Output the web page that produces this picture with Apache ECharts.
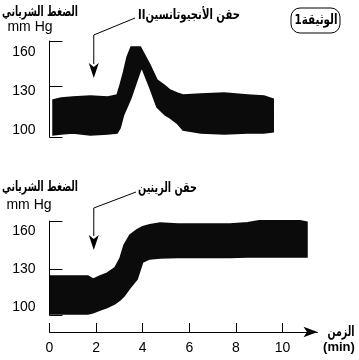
<!DOCTYPE html>
<html><head><meta charset="utf-8">
<script src="https://cdn.jsdelivr.net/npm/echarts@6/dist/echarts.min.js"></script>
<style>html,body{margin:0;padding:0;background:#fff}#c{width:359px;height:360px}</style>
</head><body><div id="c"></div>
<script>
// Panel 1: angiotensin II injection (time in min, pressure envelope in mm Hg)
const timeA  = [0.15, 0.5, 1.0, 1.75, 2.5, 2.9, 3.03, 3.18, 3.33, 3.5, 3.9, 3.97, 4.31, 4.61, 4.96, 5.17, 5.47, 5.73, 6.5, 7.5, 8.5, 9.2, 9.6];
const upperA = [123.4, 124.9, 125.6, 126.4, 125.6, 127.2, 134.8, 144.8, 156.3, 163.9, 163.9, 161.6, 150.2, 138.7, 134.1, 131, 128.7, 127.2, 128, 128.7, 127.2, 126.4, 124];
const lowerA = [96.6, 97.3, 98.1, 96.6, 97.3, 98.1, 102, 111.9, 118, 125, 146, 147.9, 132.5, 118, 111.9, 109.6, 105.7, 100.4, 98.1, 97.3, 98.1, 98.1, 98.9];
// Panel 2: renin injection
const timeR  = [0.05, 0.8, 1.65, 1.87, 2.17, 2.47, 2.8, 3.03, 3.2, 3.45, 3.76, 4.0, 4.3, 4.75, 5.5, 6.45, 7.75, 8.5, 9.0, 10.0, 10.75, 11.05];
const upperR = [124.5, 124.5, 124.5, 122, 124.5, 126.8, 130.8, 138.7, 149, 156.8, 161, 163.5, 165, 166.3, 165.5, 165.5, 165.5, 166.5, 168, 168, 168, 167];
const lowerR = [94.5, 94.5, 94.5, 95.5, 97.6, 99.5, 102.5, 105.5, 108.7, 115, 122, 135.5, 138, 138.7, 139, 139, 139, 139.5, 139.5, 139.5, 139.5, 139.5];
// Axis labels / ticks
const yLabels = [100, 130, 160];
const yTicksA = [95, 134, 168.5];
const yTicksR = [93.7, 130, 167.9];
const xLabels = [0, 2, 4, 6, 8, 10];
const injectTime = [1.9, 1.9];

const INK = '#0b0b0b';
const numFont = 'Liberation Sans, Arial, sans-serif';
const arFont = 'DejaVu Sans, sans-serif';

function yAxis(grid, min, max, ticks) {
  return {
    gridIndex: grid, type: 'value', min: min, max: max, z: 5,
    axisLine: { show: true, lineStyle: { color: '#000', width: 1 } },
    axisTick: { show: true, inside: true, length: 13, customValues: ticks, lineStyle: { color: '#000', width: 1 } },
    axisLabel: { customValues: yLabels, margin: 14, color: '#000', fontSize: 14, fontFamily: numFont },
    splitLine: { show: false }
  };
}
function band(grid, t, lo, up) {
  return {
    type: 'custom', xAxisIndex: grid, yAxisIndex: grid, silent: true, clip: false,
    data: t.map((v, i) => [v, lo[i], up[i]]),
    encode: { x: 0, y: [1, 2] },
    renderItem: function (params, api) {
      if (params.dataIndex !== 0) return null;
      const pts = [];
      for (let i = 0; i < t.length; i++) pts.push(api.coord([t[i], up[i]]));
      for (let i = t.length - 1; i >= 0; i--) pts.push(api.coord([t[i], lo[i]]));
      return { type: 'polygon', shape: { points: pts }, style: { fill: INK, stroke: INK, lineWidth: 1.5, lineJoin: 'miter' } };
    }
  };
}

const chart = echarts.init(document.getElementById('c'), null, { renderer: 'canvas' });
chart.setOption({
  animation: false,
  backgroundColor: '#fff',
  grid: [
    { left: 49.5, right: 41.5, top: 41, height: 96 },
    { left: 49.5, right: 41.5, top: 221, height: 94 }
  ],
  xAxis: [
    { gridIndex: 0, type: 'value', min: 0, max: 11.5, show: false },
    { gridIndex: 1, type: 'value', min: 0, max: 11.5, offset: 17, position: 'bottom',
      axisLine: { show: true, symbol: ['none', 'arrow'], symbolSize: [8, 14], lineStyle: { color: '#000', width: 1 } },
      axisTick: { show: true, inside: true, length: 9, customValues: xLabels, lineStyle: { color: '#000' } },
      axisLabel: { customValues: xLabels, margin: 9, color: '#000', fontSize: 14, fontFamily: numFont },
      splitLine: { show: false } }
  ],
  yAxis: [ yAxis(0, 95, 168.5, yTicksA), yAxis(1, 93.7, 167.9, yTicksR) ],
  series: [ band(0, timeA, lowerA, upperA), band(1, timeR, lowerR, upperR) ]
});

const xA = chart.convertToPixel({ xAxisIndex: 0, yAxisIndex: 0 }, [injectTime[0], 100])[0];
const xR = chart.convertToPixel({ xAxisIndex: 1, yAxisIndex: 1 }, [injectTime[1], 100])[0];

const mctx = document.createElement('canvas').getContext('2d');
function fitText(txt, cx, cy, size, width, family) {
  const font = 'bold ' + size + 'px ' + (family || arFont);
  mctx.font = font;
  const w = mctx.measureText(txt).width || width;
  return { type: 'text', x: cx, y: cy, scaleX: width / w,
    style: { text: txt, fill: '#000', font: font, align: 'center', verticalAlign: 'middle' } };
}
const plain = (txt, x, y, size, w) => ({ type: 'text', x: x, y: y,
  style: { text: txt, fill: '#000', font: (w || 'normal') + ' ' + size + 'px ' + numFont, align: 'center', verticalAlign: 'middle' } });
function arrow(x, yLine, yHead) {
  return [
    { type: 'polyline', shape: { points: [[x, yHead - 14], [x, yLine]] }, style: { stroke: '#000', lineWidth: 1, fill: null } },
    { type: 'polygon', shape: { points: [[x - 5, yHead - 15], [x, yHead - 11], [x + 5, yHead - 15], [x, yHead]] }, style: { fill: '#000' } }
  ];
}

chart.setOption({
  graphic: [].concat(
    [fitText('الضغط الشرياني', 40, 12, 14, 76), plain('mm Hg', 30, 27, 14)],
    [fitText('الضغط الشرياني', 40, 187, 14, 76), plain('mm Hg', 29, 205, 14)],
    [fitText('IIحقن الأنجيوتانسين', 189, 15, 14, 102)],
    [{ type: 'polyline', shape: { points: [[135, 18], [xA, 35]] }, style: { stroke: '#000', lineWidth: 1, fill: null } }],
    arrow(xA, 35, 78),
    [fitText('حقن الرينين', 167.5, 188, 14, 59)],
    [{ type: 'polyline', shape: { points: [[136, 192], [xR, 208]] }, style: { stroke: '#000', lineWidth: 1, fill: null } }],
    arrow(xR, 208, 250),
    [{ type: 'rect', shape: { x: 291, y: 8, width: 49, height: 25, r: 9 }, style: { stroke: '#000', lineWidth: 1, fill: '#fff' } },
     fitText('1الوثيقة', 316, 20.5, 14, 43)],
    [fitText('الزمن', 341, 332, 14, 27), plain('(min)', 339, 347, 13, 'bold')]
  )
});
</script>
</body></html>
